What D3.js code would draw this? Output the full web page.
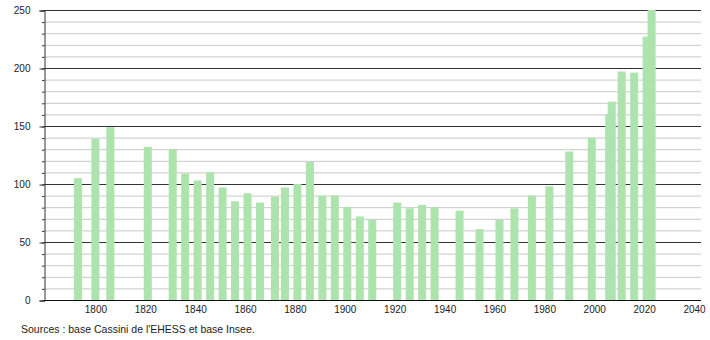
<!DOCTYPE html>
<html>
<head>
<meta charset="utf-8">
<script src="https://cdn.jsdelivr.net/npm/d3@7"></script>
<style>
  body { margin: 0; background: #fff; }
  text { font-family: "Liberation Sans", Arial, sans-serif; fill: #222; }
</style>
</head>
<body>
<script>
// census years and population values
const years = [1793, 1800, 1806, 1821, 1831, 1836, 1841, 1846, 1851, 1856, 1861, 1866,
  1872, 1876, 1881, 1886, 1891, 1896, 1901, 1906, 1911, 1921, 1926, 1931, 1936, 1946,
  1954, 1962, 1968, 1975, 1982, 1990, 1999, 2006, 2007, 2011, 2016, 2021, 2023];
const population = [105, 139, 149, 132, 130, 109, 103, 110, 97, 85, 92, 84,
  89, 97, 100, 119, 90, 90, 80, 72, 69, 84, 79, 82, 80, 77,
  61, 69, 79, 90, 98, 128, 140, 160, 171, 197, 196, 227, 250];
const xTickValues = [1800, 1820, 1840, 1860, 1880, 1900, 1920, 1940, 1960, 1980, 2000, 2020, 2040];
const yTickValues = [0, 50, 100, 150, 200, 250];
const sourceText = "Sources : base Cassini de l'EHESS et base Insee.";

const DIM = { width: 710, height: 340, left: 44, right: 701, top: 10, bottom: 300 };

const svg = d3.select('body').append('svg')
  .attr('width', DIM.width)
  .attr('height', DIM.height);

const x = d3.scaleLinear().domain([1779.4, 2042.8]).range([DIM.left, DIM.right]);
const y = d3.scaleLinear().domain([0, 250]).range([DIM.bottom, DIM.top]);

// minor grid every 10, major every 50
const minor = d3.range(10, 251, 10).filter(v => v % 50 !== 0);
svg.append('g').selectAll('line').data(minor).join('line')
  .attr('x1', DIM.left).attr('x2', DIM.right)
  .attr('y1', d => y(d) + 0.5).attr('y2', d => y(d) + 0.5)
  .attr('stroke', '#c8c8c8').attr('stroke-width', 1);
svg.append('g').selectAll('line').data(yTickValues.filter(v => v > 0)).join('line')
  .attr('x1', DIM.left).attr('x2', DIM.right)
  .attr('y1', d => y(d) + 0.5).attr('y2', d => y(d) + 0.5)
  .attr('stroke', '#333').attr('stroke-width', 1);

// bars
const barW = 8;
svg.append('g').selectAll('rect').data(years).join('rect')
  .attr('x', (d, i) => x(d) - barW / 2)
  .attr('y', (d, i) => y(population[i]))
  .attr('width', barW)
  .attr('height', (d, i) => y(0) - y(population[i]))
  .attr('fill', '#ade3ad');

// y axis
const yAxisMinor = d3.axisLeft(y).tickValues(d3.range(0, 251, 10)).tickSize(2.5).tickFormat('');
svg.append('g').attr('transform', `translate(${DIM.left + 0.5},0.5)`).call(yAxisMinor)
  .call(g => g.select('.domain').remove())
  .selectAll('line').attr('stroke', '#333');
const yAxis = d3.axisLeft(y).tickValues(yTickValues).tickSize(5).tickPadding(9);
svg.append('g').attr('transform', `translate(${DIM.left + 0.5},0.5)`).call(yAxis)
  .call(g => g.select('.domain').attr('stroke', '#333'))
  .call(g => g.selectAll('line').attr('stroke', '#333'))
  .selectAll('text').style('font-size', '10px').attr('fill', '#222');

// x axis
const xAxis = d3.axisBottom(x).tickValues(xTickValues).tickSize(0).tickPadding(5).tickFormat(d3.format('d'));
svg.append('g').attr('transform', `translate(0,${DIM.bottom + 0.5})`).call(xAxis)
  .call(g => g.select('.domain').attr('stroke', '#111').attr('d', `M${DIM.left},0H${DIM.right}`))
  .selectAll('text').style('font-size', '10px').attr('fill', '#222');

svg.append('text')
  .attr('x', 21).attr('y', 333)
  .style('font-size', '10.5px')
  .text(sourceText);
</script>
</body>
</html>
